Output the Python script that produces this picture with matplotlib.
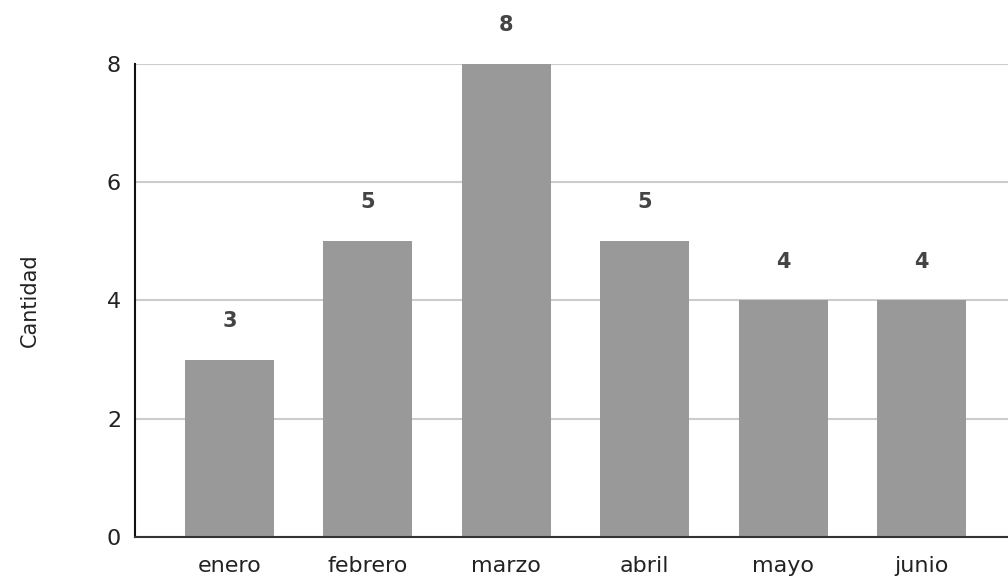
import matplotlib
matplotlib.use("Agg")
import matplotlib.pyplot as plt
import numpy as np

meses = ["enero", "febrero", "marzo", "abril", "mayo", "junio"]
cantidad = [3, 5, 8, 5, 4, 4]
y_ticks = [0, 2, 4, 6, 8]

plt.rcParams['font.family'] = ['DejaVu Sans']

fig = plt.figure(figsize=(10.08, 5.8), dpi=100)
ax = fig.add_axes([0.1339, 0.0741, 0.8661, 0.8156])

x = np.arange(len(meses))
bars = ax.bar(x, cantidad, width=0.643, color="#999999", zorder=3)

for xi, v in zip(x, cantidad):
    ax.annotate(str(v), (xi, v), xytext=(0, 28), textcoords="offset points",
                ha="center", va="center", fontsize=15, fontweight="bold",
                color="#444444", annotation_clip=False)

ax.set_xlim(-0.683, 5.625)
ax.set_ylim(0, 8)
ax.set_yticks(y_ticks)
ax.set_xticks(x)
ax.set_xticklabels(meses)
ax.tick_params(axis="both", length=0, labelsize=16, colors="#222222")
ax.tick_params(axis="y", pad=10)
ax.tick_params(axis="x", pad=14)

ax.grid(axis="y", color="#cccccc", linewidth=1.5, zorder=0)
for s in ["top", "right"]:
    ax.spines[s].set_visible(False)
ax.spines["left"].set_color("#111111")
ax.spines["left"].set_linewidth(1.5)
ax.spines["bottom"].set_color("#333333")
ax.spines["bottom"].set_linewidth(1.5)
ax.spines["left"].set_zorder(4)
ax.spines["bottom"].set_zorder(4)

ax.set_ylabel("Cantidad", fontsize=15, color="#222222", labelpad=48)

plt.savefig("out.png", dpi=100)
